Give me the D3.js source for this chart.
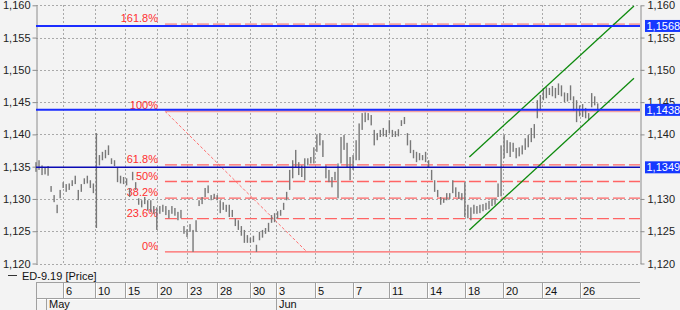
<!DOCTYPE html>
<html>
<head>
<meta charset="utf-8">
<script src="https://cdn.jsdelivr.net/npm/d3@7"></script>
<style>
  body { margin: 0; background: #f3f3f3; }
  svg { display: block; font-family: "Liberation Sans", Arial, sans-serif; }
</style>
</head>
<body>
<div id="chart"></div>
<script>
'use strict';

var width = 680;
var height = 310;

// price ticks on both axes
var priceTicks = [1.120, 1.125, 1.130, 1.135, 1.140, 1.145, 1.150, 1.155, 1.160];
// the right axis label under the 1,1349 box is not visible
var rightTicks = [1.120, 1.125, 1.130, 1.140, 1.145, 1.150, 1.155, 1.160];

// day labels along the bottom, with the bar index where each day starts
var dayLabels = ['6', '10', '15', '20', '23', '28', '30', '3', '5', '7', '11', '14', '18', '20', '24', '26'];
var dayBars = [9, 19.5, 29.5, 40, 50, 60, 71, 79.5, 92.5, 105, 117, 129.5, 142, 154.5, 167.5, 180];
var monthLabels = ['May', 'Jun'];
var monthBars = [3.3, 79.5];

// bar highs and lows
var hi = [
  1.1357, 1.1360, 1.1352, 1.1349, 1.1351, 1.1320, 1.1306, 1.1291, 1.1314, 1.1326,
  1.1323, 1.1324, 1.1329, 1.1336, 1.1314, 1.1323, 1.1332, 1.1336, 1.1329, 1.1324,
  1.1402, 1.1368, 1.1373, 1.1376, 1.1383, 1.1363, 1.1360, 1.1349, 1.1336, 1.1334,
  1.1332, 1.1317, 1.1342, 1.1326, 1.1301, 1.1298, 1.1303, 1.1298, 1.1298, 1.1289,
  1.1287, 1.1289, 1.1291, 1.1289, 1.1283, 1.1289, 1.1286, 1.1280, 1.1283, 1.1258,
  1.1253, 1.1261, 1.1252, 1.1267, 1.1298, 1.1303, 1.1317, 1.1321, 1.1306, 1.1308,
  1.1306, 1.1298, 1.1295, 1.1291, 1.1291, 1.1283, 1.1270, 1.1267, 1.1258, 1.1252,
  1.1244, 1.1240, 1.1243, 1.1229, 1.1249, 1.1252, 1.1255, 1.1263, 1.1275, 1.1278,
  1.1281, 1.1283, 1.1294, 1.1311, 1.1345, 1.1360, 1.1376, 1.1357, 1.1352, 1.1363,
  1.1363, 1.1365, 1.1380, 1.1399, 1.1402, 1.1391, 1.1352, 1.1345, 1.1334, 1.1342,
  1.1355, 1.1396, 1.1399, 1.1387, 1.1365, 1.1368, 1.1391, 1.1417, 1.1433, 1.1434,
  1.1433, 1.1430, 1.1407, 1.1402, 1.1407, 1.1410, 1.1407, 1.1422, 1.1407, 1.1405,
  1.1408, 1.1422, 1.1427, 1.1402, 1.1391, 1.1376, 1.1373, 1.1371, 1.1368, 1.1373,
  1.1360, 1.1345, 1.1329, 1.1314, 1.1303, 1.1301, 1.1309, 1.1309, 1.1329, 1.1318,
  1.1311, 1.1309, 1.1326, 1.1291, 1.1287, 1.1291, 1.1289, 1.1291, 1.1292, 1.1294,
  1.1297, 1.1300, 1.1301, 1.1324, 1.1383, 1.1399, 1.1391, 1.1388, 1.1387, 1.1379,
  1.1380, 1.1383, 1.1394, 1.1399, 1.1410, 1.1416, 1.1453, 1.1461, 1.1472, 1.1473,
  1.1472, 1.1475, 1.1472, 1.1479, 1.1476, 1.1465, 1.1464, 1.1476, 1.1459, 1.1453,
  1.1445, 1.1447, 1.1441, 1.1433, 1.1464, 1.1459, 1.1448
];
var lo = [
  1.1342, 1.1345, 1.1337, 1.1338, 1.1336, 1.1311, 1.1295, 1.1278, 1.1301, 1.1317,
  1.1311, 1.1314, 1.1320, 1.1323, 1.1298, 1.1311, 1.1323, 1.1324, 1.1317, 1.1309,
  1.1255, 1.1352, 1.1360, 1.1363, 1.1368, 1.1354, 1.1351, 1.1326, 1.1324, 1.1323,
  1.1321, 1.1303, 1.1329, 1.1314, 1.1291, 1.1287, 1.1292, 1.1282, 1.1280, 1.1277,
  1.1252, 1.1277, 1.1280, 1.1275, 1.1270, 1.1277, 1.1274, 1.1267, 1.1270, 1.1246,
  1.1241, 1.1249, 1.1218, 1.1249, 1.1289, 1.1292, 1.1303, 1.1309, 1.1298, 1.1300,
  1.1298, 1.1278, 1.1283, 1.1280, 1.1272, 1.1272, 1.1258, 1.1252, 1.1243, 1.1232,
  1.1232, 1.1232, 1.1233, 1.1218, 1.1236, 1.1240, 1.1246, 1.1249, 1.1263, 1.1264,
  1.1270, 1.1274, 1.1283, 1.1298, 1.1314, 1.1332, 1.1348, 1.1337, 1.1334, 1.1329,
  1.1352, 1.1355, 1.1355, 1.1373, 1.1383, 1.1365, 1.1332, 1.1326, 1.1318, 1.1329,
  1.1301, 1.1355, 1.1376, 1.1349, 1.1329, 1.1345, 1.1360, 1.1360, 1.1407, 1.1419,
  1.1422, 1.1414, 1.1383, 1.1391, 1.1396, 1.1397, 1.1396, 1.1402, 1.1396, 1.1396,
  1.1397, 1.1413, 1.1416, 1.1383, 1.1371, 1.1363, 1.1357, 1.1360, 1.1360, 1.1357,
  1.1348, 1.1329, 1.1311, 1.1303, 1.1291, 1.1294, 1.1298, 1.1300, 1.1309, 1.1303,
  1.1300, 1.1298, 1.1272, 1.1270, 1.1267, 1.1277, 1.1277, 1.1278, 1.1281, 1.1283,
  1.1284, 1.1289, 1.1291, 1.1303, 1.1304, 1.1363, 1.1371, 1.1365, 1.1373, 1.1363,
  1.1366, 1.1369, 1.1376, 1.1380, 1.1388, 1.1394, 1.1425, 1.1437, 1.1453, 1.1456,
  1.1461, 1.1459, 1.1456, 1.1461, 1.1459, 1.1450, 1.1451, 1.1453, 1.1437, 1.1419,
  1.1428, 1.1427, 1.1425, 1.1422, 1.1442, 1.1445, 1.1437
];

// fibonacci retracement drawn from the high to the low
var fibLevels = [0, 0.236, 0.382, 0.5, 0.618, 1, 1.618];
var fibLabels = ['0%', '23.6%', '38.2%', '50%', '61.8%', '100%', '161.8%'];
var fibLow = 1.1218;
var fibHigh = 1.1436;
var fibBars = [42.7, 89.7];

// trend channel
var channelBars = [143.5, 198];
var channelUpper = [1.1365, 1.1599];
var channelLower = [1.1252, 1.1487];

// horizontal price lines with value boxes on the right
var hLevels = [1.1568, 1.1438, 1.1349];

var locale = d3.formatLocale({decimal: ',', thousands: '.', grouping: [3], currency: ['', '']});
var fmtTick = locale.format('.3f');
var fmtLevel = locale.format('.4f');

var x = d3.scaleLinear().domain([0, 200]).range([36, 640]);
var y = d3.scaleLinear().domain([1.120, 1.160]).range([263.5, 5.3]);

var svg = d3.select('#chart').append('svg')
  .attr('width', width)
  .attr('height', height);

svg.append('rect').attr('width', width).attr('height', height).attr('fill', '#f3f3f3');

// grid
var grid = svg.append('g').attr('stroke', '#a9a9a9').attr('stroke-dasharray', '2,2').attr('shape-rendering', 'crispEdges');
grid.selectAll('line.h').data(priceTicks).enter().append('line')
  .attr('class', 'h')
  .attr('x1', x(0)).attr('x2', x(200))
  .attr('y1', function(d){ return Math.round(y(d)) + 0.5; })
  .attr('y2', function(d){ return Math.round(y(d)) + 0.5; });
grid.selectAll('line.v').data(dayBars).enter().append('line')
  .attr('class', 'v')
  .attr('x1', function(d){ return Math.round(x(d)) + 0.5; })
  .attr('x2', function(d){ return Math.round(x(d)) + 0.5; })
  .attr('y1', y(1.160)).attr('y2', y(1.120));

// axes
function styleAxis(g){
  g.select('.domain').attr('stroke', '#8c8c8c');
  g.selectAll('.tick line').attr('stroke', '#8c8c8c');
  g.selectAll('.tick text').attr('fill', '#222').style('font-size', '11px');
}
svg.append('g').attr('transform', 'translate(36.5,0)')
  .call(d3.axisLeft(y).tickValues(priceTicks).tickFormat(fmtTick).tickSize(4).tickSizeOuter(0).tickPadding(2))
  .call(styleAxis);
svg.append('g').attr('transform', 'translate(640.5,0)')
  .call(d3.axisRight(y).tickValues(rightTicks).tickFormat(fmtTick).tickSize(4).tickSizeOuter(0).tickPadding(3))
  .call(styleAxis);

// fibonacci lines
var fib = svg.append('g');
fib.append('line')
  .attr('x1', x(fibBars[0])).attr('y1', y(fibHigh))
  .attr('x2', x(fibBars[1])).attr('y2', y(fibLow))
  .attr('stroke', '#ff6f6f').attr('stroke-width', 1).attr('stroke-dasharray', '3,2');
fib.selectAll('line.lvl').data(fibLevels).enter().append('line')
  .attr('class', 'lvl')
  .attr('x1', x(fibBars[0])).attr('x2', x(200))
  .attr('y1', function(d){ return y(fibLow + d * (fibHigh - fibLow)); })
  .attr('y2', function(d){ return y(fibLow + d * (fibHigh - fibLow)); })
  .attr('stroke', function(d){ return d === 1 || d === 1.618 ? '#f3a2a2' : '#ff6464'; })
  .attr('stroke-width', function(d){ return d === 1 || d === 1.618 ? 2 : 1.4; })
  .attr('stroke-dasharray', function(d){ return d === 0 || d === 1 ? null : '12,4'; });
fib.selectAll('text').data(fibLevels).enter().append('text')
  .attr('x', x(fibBars[0]) - 7)
  .attr('y', function(d){ return y(fibLow + d * (fibHigh - fibLow)) - 2; })
  .attr('text-anchor', 'end')
  .attr('fill', '#ff2e2e')
  .style('font-size', '11px')
  .text(function(d, i){ return fibLabels[i]; });

// price bars
svg.append('g').selectAll('rect').data(hi).enter().append('rect')
  .attr('x', function(d, i){ return x(i) - 0.7; })
  .attr('width', 1.4)
  .attr('y', function(d){ return y(d); })
  .attr('height', function(d, i){ return Math.max(1, y(lo[i]) - y(d)); })
  .attr('fill', '#787878');

// channel
var chan = svg.append('g').attr('stroke', '#0d8a0d').attr('stroke-width', 1.3);
[channelUpper, channelLower].forEach(function(c){
  chan.append('line')
    .attr('x1', x(channelBars[0])).attr('y1', y(c[0]))
    .attr('x2', x(channelBars[1])).attr('y2', y(c[1]));
});

// horizontal blue lines
svg.append('g').selectAll('line').data(hLevels).enter().append('line')
  .attr('x1', x(0)).attr('x2', x(200))
  .attr('y1', function(d){ return y(d); })
  .attr('y2', function(d){ return y(d); })
  .attr('stroke', function(d, i){ return i === 2 ? '#0a0ab4' : '#1a2cff'; })
  .attr('stroke-width', function(d, i){ return i === 2 ? 1.5 : 2; });

var boxes = svg.append('g').selectAll('g').data(hLevels).enter().append('g')
  .attr('transform', function(d){ return 'translate(645,' + y(d) + ')'; });
boxes.append('rect').attr('x', 0).attr('y', -6).attr('width', 35).attr('height', 12).attr('fill', '#1638ff');
boxes.append('text').attr('x', 1.5).attr('y', 4).attr('fill', '#fff').style('font-size', '11px')
  .text(function(d){ return fmtLevel(d); });

// legend
svg.append('line').attr('x1', 8).attr('x2', 17).attr('y1', 275.5).attr('y2', 275.5).attr('stroke', '#333');
svg.append('text').attr('x', 22).attr('y', 279.5).attr('fill', '#111').style('font-size', '11px').text('ED-9.19 [Price]');

// date axis
var dax = svg.append('g').attr('shape-rendering', 'crispEdges');
dax.append('line').attr('x1', 36).attr('x2', 640).attr('y1', 282.5).attr('y2', 282.5).attr('stroke', '#a0a0a0');
dax.append('line').attr('x1', 36).attr('x2', 640).attr('y1', 298.5).attr('y2', 298.5).attr('stroke', '#a0a0a0');
dax.append('line').attr('x1', 36).attr('x2', 640).attr('y1', 299.5).attr('y2', 299.5).attr('stroke', '#fff');
dax.append('line').attr('x1', 36.5).attr('x2', 36.5).attr('y1', 282).attr('y2', 310).attr('stroke', '#a0a0a0');

dax.selectAll('line.d').data(dayBars).enter().append('line')
  .attr('class', 'd')
  .attr('x1', function(d){ return Math.round(x(d)) + 0.5; })
  .attr('x2', function(d){ return Math.round(x(d)) + 0.5; })
  .attr('y1', 283).attr('y2', 298)
  .attr('stroke', '#a0a0a0');
dax.selectAll('line.dw').data(dayBars).enter().append('line')
  .attr('class', 'dw')
  .attr('x1', function(d){ return Math.round(x(d)) + 1.5; })
  .attr('x2', function(d){ return Math.round(x(d)) + 1.5; })
  .attr('y1', 283).attr('y2', 298)
  .attr('stroke', '#fff');
dax.selectAll('text.d').data(dayLabels).enter().append('text')
  .attr('class', 'd')
  .attr('x', function(d, i){ return Math.round(x(dayBars[i])) + 3; })
  .attr('y', 294.5)
  .attr('fill', '#111')
  .style('font-size', '11px')
  .text(function(d){ return d; });

dax.selectAll('line.m').data(monthBars).enter().append('line')
  .attr('class', 'm')
  .attr('x1', function(d){ return Math.round(x(d)) + 0.5; })
  .attr('x2', function(d){ return Math.round(x(d)) + 0.5; })
  .attr('y1', 299).attr('y2', 310)
  .attr('stroke', '#a0a0a0');
dax.selectAll('text.m').data(monthLabels).enter().append('text')
  .attr('class', 'm')
  .attr('x', function(d, i){ return Math.round(x(monthBars[i])) + 3; })
  .attr('y', 307.5)
  .attr('fill', '#111')
  .style('font-size', '11px')
  .text(function(d){ return d; });
</script>
</body>
</html>
